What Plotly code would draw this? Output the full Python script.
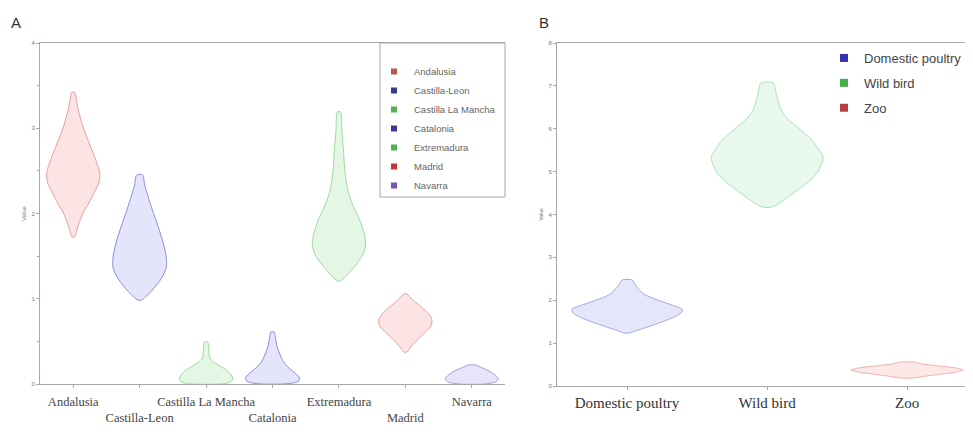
import plotly.graph_objects as go

# ---------------- Panel A data ----------------
regions = ["Andalusia", "Castilla-Leon", "Castilla La Mancha", "Catalonia",
           "Extremadura", "Madrid", "Navarra"]

# Violin profiles: value levels (top -> bottom) and relative density (half-width)
andalusia_vals = [3.425, 3.214, 3.015, 2.804, 2.628, 2.475, 2.358, 2.240, 2.123, 2.006, 1.865, 1.724]
andalusia_dens = [0.04, 0.19, 0.37, 0.63, 0.85, 1.00, 0.96, 0.78, 0.59, 0.37, 0.19, 0.04]

castilla_leon_vals = [2.452, 2.334, 2.217, 2.041, 1.842, 1.654, 1.490, 1.361, 1.220, 1.103, 1.021, 0.985]
castilla_leon_dens = [0.11, 0.19, 0.30, 0.48, 0.70, 0.89, 1.00, 1.00, 0.78, 0.48, 0.22, 0.07]

castilla_mancha_vals = [0.493, 0.399, 0.305, 0.258, 0.211, 0.164, 0.117, 0.070, 0.035, 0.006]
castilla_mancha_dens = [0.06, 0.10, 0.14, 0.28, 0.52, 0.76, 0.92, 1.00, 0.96, 0.72]

catalonia_vals = [0.610, 0.516, 0.422, 0.340, 0.258, 0.188, 0.129, 0.082, 0.041, 0.012, 0.0]
catalonia_dens = [0.06, 0.12, 0.19, 0.29, 0.42, 0.62, 0.85, 1.00, 1.00, 0.77, 0.38]

extremadura_vals = [3.191, 2.979, 2.745, 2.510, 2.276, 2.100, 1.924, 1.748, 1.630, 1.513, 1.396, 1.302, 1.232, 1.208]
extremadura_dens = [0.06, 0.11, 0.17, 0.22, 0.33, 0.52, 0.78, 0.96, 1.00, 0.89, 0.63, 0.37, 0.15, 0.06]

madrid_vals = [1.056, 0.985, 0.903, 0.821, 0.751, 0.680, 0.598, 0.516, 0.434, 0.375]
madrid_dens = [0.06, 0.28, 0.60, 0.88, 1.00, 0.96, 0.72, 0.44, 0.20, 0.06]

navarra_vals = [0.223, 0.188, 0.141, 0.094, 0.059, 0.023, 0.0]
navarra_dens = [0.12, 0.40, 0.72, 0.92, 1.00, 0.88, 0.48]

region_vals = [andalusia_vals, castilla_leon_vals, castilla_mancha_vals, catalonia_vals,
               extremadura_vals, madrid_vals, navarra_vals]
region_dens = [andalusia_dens, castilla_leon_dens, castilla_mancha_dens, catalonia_dens,
               extremadura_dens, madrid_dens, navarra_dens]

region_fill = ["#fce4e4", "#e4e4fa", "#e4f7e4", "#e4e4fa", "#e4f7e4", "#fce4e4", "#e9e4fa"]
region_line = ["#e4a0a0", "#8e8ee0", "#9edb9e", "#8e8ee0", "#9edb9e", "#e4a0a0", "#a99ae2"]
region_legend = ["#b8584e", "#3b3b8e", "#55b055", "#3b3b8e", "#55b055", "#c0393b", "#7656b5"]

# ---------------- Panel B data ----------------
hosts = ["Domestic poultry", "Wild bird", "Zoo"]

poultry_vals = [2.471, 2.354, 2.238, 2.121, 2.005, 1.888, 1.795, 1.725, 1.608, 1.492, 1.375, 1.282, 1.235]
poultry_dens = [0.09, 0.15, 0.22, 0.33, 0.55, 0.80, 0.98, 0.98, 0.84, 0.62, 0.36, 0.15, 0.04]

wild_vals = [7.063, 6.830, 6.434, 6.200, 6.037, 5.734, 5.501, 5.338, 5.152, 4.965, 4.755, 4.569, 4.336, 4.219, 4.172]
wild_dens = [0.11, 0.16, 0.25, 0.39, 0.54, 0.80, 0.93, 1.00, 0.96, 0.89, 0.73, 0.54, 0.30, 0.16, 0.07]

zoo_vals = [0.559, 0.513, 0.466, 0.420, 0.373, 0.326, 0.280, 0.233, 0.186]
zoo_dens = [0.12, 0.27, 0.58, 0.87, 1.00, 0.88, 0.62, 0.35, 0.10]

host_vals = [poultry_vals, wild_vals, zoo_vals]
host_dens = [poultry_dens, wild_dens, zoo_dens]

host_fill = ["#e6e6fa", "#e9f8ec", "#fde7e7"]
host_line = ["#a6a6e8", "#a9e2bb", "#f0b2b2"]
host_legend = ["#3434b0", "#45b045", "#b54242"]

HALF = 0.4  # max half-width of a violin in category units

# page layout helpers (the html body has an 8px margin)
W, H, OFF = 965, 424, 8


def px(x):
    return (x - OFF) / W


def py(y):
    return 1 - (y - OFF) / H


def violin_path(center, vals, dens):
    xs = [center + HALF * d for d in dens] + [center - HALF * d for d in reversed(dens)]
    ys = list(vals) + list(reversed(vals))
    xs.append(xs[0])
    ys.append(ys[0])
    return xs, ys


fig = go.Figure()

for i, name in enumerate(regions):
    xs, ys = violin_path(i, region_vals[i], region_dens[i])
    fig.add_trace(go.Scatter(x=xs, y=ys, mode="lines", fill="toself",
                             fillcolor=region_fill[i],
                             line=dict(color=region_line[i], width=1, shape="spline", smoothing=0.8),
                             showlegend=False, hoverinfo="skip", xaxis="x", yaxis="y"))
for i, name in enumerate(regions):
    fig.add_trace(go.Scatter(x=[None], y=[None], mode="markers", name=name,
                             marker=dict(symbol="square", size=6, color=region_legend[i]),
                             legend="legend", xaxis="x", yaxis="y"))

for i, name in enumerate(hosts):
    xs, ys = violin_path(i, host_vals[i], host_dens[i])
    fig.add_trace(go.Scatter(x=xs, y=ys, mode="lines", fill="toself",
                             fillcolor=host_fill[i],
                             line=dict(color=host_line[i], width=1, shape="spline", smoothing=0.8),
                             showlegend=False, hoverinfo="skip", xaxis="x2", yaxis="y2"))
for i, name in enumerate(hosts):
    fig.add_trace(go.Scatter(x=[None], y=[None], mode="markers", name=name,
                             legendgroup="h%d" % i,
                             marker=dict(symbol="square", size=8, color=host_legend[i]),
                             legend="legend2", xaxis="x2", yaxis="y2"))

ticktext_a = [r if k % 2 == 0 else "<br>" + r for k, r in enumerate(regions)]

axis_common = dict(showline=True, linecolor="#a8a8a8", linewidth=1, showgrid=False,
                   zeroline=False, ticks="outside", ticklen=3, tickcolor="#a8a8a8",
                   automargin=False)

fig.update_layout(
    width=W, height=H,
    margin=dict(l=0, r=0, t=0, b=0, autoexpand=False),
    paper_bgcolor="white", plot_bgcolor="white",
    font=dict(family="Liberation Sans, Arial, sans-serif"),
    xaxis=dict(domain=[px(40), px(505)], range=[-0.5, 6.5], anchor="y",
               tickmode="array", tickvals=list(range(len(regions))), ticktext=ticktext_a,
               tickangle=0, ticklabelstandoff=3,
               tickfont=dict(family="Liberation Serif, Times New Roman, serif", size=12.5, color="#444"),
               mirror=True, **axis_common),
    yaxis=dict(domain=[py(384), py(43)], range=[0, 4], anchor="x",
               tickmode="linear", dtick=1, tick0=0,
               minor=dict(dtick=0.5, ticks="outside", ticklen=2, tickcolor="#a8a8a8"),
               tickfont=dict(size=6, color="#777"),
               title=dict(text="Value", font=dict(size=6, color="#777"), standoff=4),
               **axis_common),
    xaxis2=dict(domain=[px(557), 1.0], range=[-0.5, 2.47], anchor="y2",
                tickmode="array", tickvals=list(range(len(hosts))), ticktext=hosts,
                tickangle=0,
                tickfont=dict(family="Liberation Serif, Times New Roman, serif", size=15, color="#333"),
                mirror=True, **axis_common),
    yaxis2=dict(domain=[py(386), py(43)], range=[0, 8], anchor="x2",
                tickmode="linear", dtick=1, tick0=0,
                tickfont=dict(size=6, color="#777"),
                title=dict(text="Value", font=dict(size=5, color="#777"), standoff=4),
                **axis_common),
    legend=dict(x=px(374), y=py(57), xanchor="left", yanchor="top",
                borderwidth=0, bgcolor="rgba(255,255,255,0)",
                font=dict(size=9.5, color="#666"), itemwidth=30, tracegroupgap=0),
    legend2=dict(x=px(824), y=py(43), xanchor="left", yanchor="top",
                 bgcolor="rgba(255,255,255,0)", font=dict(size=13, color="#444"),
                 itemwidth=30, tracegroupgap=5),
    shapes=[
        dict(type="rect", xref="paper", yref="paper",
             x0=px(380), x1=px(505), y0=py(197), y1=py(43),
             line=dict(color="#a8a8a8", width=1), fillcolor="rgba(255,255,255,0)", layer="above"),
    ],
    annotations=[
        dict(text="A", x=px(9), y=py(22), xref="paper", yref="paper",
             xanchor="left", yanchor="middle", showarrow=False, font=dict(size=15, color="#333")),
        dict(text="B", x=px(537), y=py(22), xref="paper", yref="paper",
             xanchor="left", yanchor="middle", showarrow=False, font=dict(size=15, color="#333")),
    ],
)

fig.write_html("out.html")
